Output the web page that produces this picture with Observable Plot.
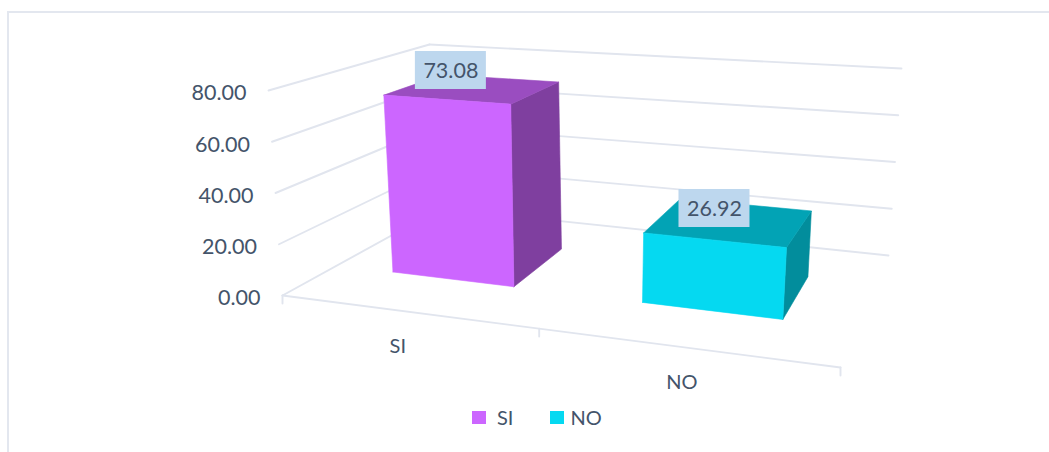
<!DOCTYPE html>
<html><head><meta charset="utf-8">
<script src="https://cdn.jsdelivr.net/npm/d3@7"></script>
<script src="https://cdn.jsdelivr.net/npm/@observablehq/plot@0.6"></script>
<style>
html,body{margin:0;padding:0;background:#fff;overflow:hidden}
#page{position:relative;width:1049px;height:452px}
#frame{position:absolute;left:7px;top:11px;right:-4px;bottom:-4px;border:2px solid #e3e7ef;box-sizing:border-box;pointer-events:none}
#chart svg{display:block}
#legend{position:absolute;top:404px;left:472px;display:flex;align-items:center;height:25px;font:20px Lato,sans-serif;color:#44546a}
#legend i{display:inline-block;width:14px;height:13px;position:relative;top:1px}
</style></head>
<body><div id="page"><div id="frame"></div><div id="chart"></div>
<div id="legend"></div></div>
<script>
// ---- data ----
const categories = ["SI", "NO"];
const values = [73.08, 26.92];
const valueTicks = [0, 20, 40, 60, 80];

// ---- styles ----
const frontColors = ["#cc66ff", "#05d9f1"];
const topColors = ["#9a4dc0", "#02a3b5"];
const sideColors = ["#7f3f9f", "#028d9c"];
const gridColor = "#e1e5ee", textColor = "#44546a", labelBox = "#bdd7ee";
const fontFamily = "Lato, sans-serif";

// ---- 3D chart box: its eight projected corners (Plot has no 3D, so the
// category/value/depth position of each vertex goes through this projection) ----
const W = 1049, H = 400, vMax = 80;
const corners = {
  fb0:[282,295], fb1:[840,367], bb0:[440,208], bb1:[888,255],
  ft0:[268,90],  ft1:[856,133], bt0:[429,44],  bt1:[901,68]
};
const lerp = (a,b,t) => a + (b-a)*t;
const mix = (p,q,t) => [lerp(p[0],q[0],t), lerp(p[1],q[1],t)];
function project(u, v, w) {
  const t = v / vMax;
  const bottom = mix(mix(corners.fb0,corners.fb1,u), mix(corners.bb0,corners.bb1,u), w);
  const top = mix(mix(corners.ft0,corners.ft1,u), mix(corners.bt0,corners.bt1,u), w);
  return mix(bottom, top, t);
}
const bandEdges = [0, 0.46, 1];        // category bands along the floor
const barInset = [[0.232, 0.738], [0.235, 0.735]]; // bar extent inside its band
const barDepth = [0.348, 0.742];       // bar extent in depth
const labelShift = [[-23,-18.5],[-16,-14]], catShift = [[-13,35],[-8,35]];
const boxW = 71, boxH = 38;

const poly = pts => [...pts, pts[0]].map(p => ({x:p[0], y:p[1]}));
const seg = (a,b) => [{x:a[0],y:a[1]},{x:b[0],y:b[1]}];
const lineStyle = {x:"x", y:"y", stroke:gridColor, strokeWidth:1.9};

const marks = [];
// grid walls
for (const v of valueTicks) {
  marks.push(Plot.line(seg(project(0,v,0), project(0,v,1)), lineStyle));
  marks.push(Plot.line(seg(project(0,v,1), project(1,v,1)), lineStyle));
}
// floor front edge and ticks
marks.push(Plot.line(seg(project(0,0,0), project(1,0,0)), lineStyle));
for (const e of bandEdges) {
  const p = project(e,0,0);
  marks.push(Plot.line(seg(p,[p[0],p[1]+8]), lineStyle));
}
// value tick labels
marks.push(Plot.text(valueTicks, {
  x: v => project(0,v,0)[0], y: v => project(0,v,0)[1],
  text: v => v.toFixed(2), textAnchor:"end", dx:-22, dy:3,
  fill:textColor, fontSize:21.5, fontFamily
}));
// bars
categories.forEach((c,i) => {
  const span = bandEdges[i+1]-bandEdges[i];
  const u0 = bandEdges[i]+span*barInset[i][0], u1 = bandEdges[i]+span*barInset[i][1];
  const [w0,w1] = barDepth, h = values[i];
  const face = (pts, fill) => marks.push(Plot.line(poly(pts), {x:"x", y:"y", fill, stroke:fill, strokeWidth:0.6}));
  face([project(u1,0,w0),project(u1,0,w1),project(u1,h,w1),project(u1,h,w0)], sideColors[i]);
  face([project(u0,h,w0),project(u1,h,w0),project(u1,h,w1),project(u0,h,w1)], topColors[i]);
  face([project(u0,0,w0),project(u1,0,w0),project(u1,h,w0),project(u0,h,w0)], frontColors[i]);
});
// data labels and category labels
categories.forEach((c,i) => {
  const span = bandEdges[i+1]-bandEdges[i];
  const um = bandEdges[i]+span*0.485, wm = (barDepth[0]+barDepth[1])/2;
  const p = project(um, values[i], wm);
  const cx = p[0]+labelShift[i][0], cy = p[1]+labelShift[i][1];
  marks.push(Plot.rect([{x1:cx-boxW/2,x2:cx+boxW/2,y1:cy-boxH/2,y2:cy+boxH/2}],
    {x1:"x1",x2:"x2",y1:"y1",y2:"y2",fill:labelBox}));
  marks.push(Plot.text([values[i].toFixed(2)], {x:()=>cx, y:()=>cy+1, text:d=>d, fill:textColor, fontSize:21.5, fontFamily}));
  const f = project(bandEdges[i]+span*0.5,0,0);
  marks.push(Plot.text([c], {x:()=>f[0]+catShift[i][0], y:()=>f[1]+catShift[i][1], text:d=>d, fill:textColor, fontSize:20, fontFamily}));
});

const chart = Plot.plot({
  width:W, height:H, margin:0,
  x:{domain:[0,W], range:[0,W], axis:null},
  y:{domain:[0,H], range:[0,H], axis:null},
  style:{background:"transparent"},
  marks
});
document.getElementById("chart").append(chart);

// legend
const lg = document.getElementById("legend");
categories.forEach((c,i) => {
  const s = document.createElement("i"); s.style.background = frontColors[i];
  s.style.marginRight = i ? "6px" : "11px";
  const t = document.createElement("span"); t.textContent = c;
  if (i===0) t.style.marginRight = "37px";
  lg.append(s,t);
});
</script></body></html>
